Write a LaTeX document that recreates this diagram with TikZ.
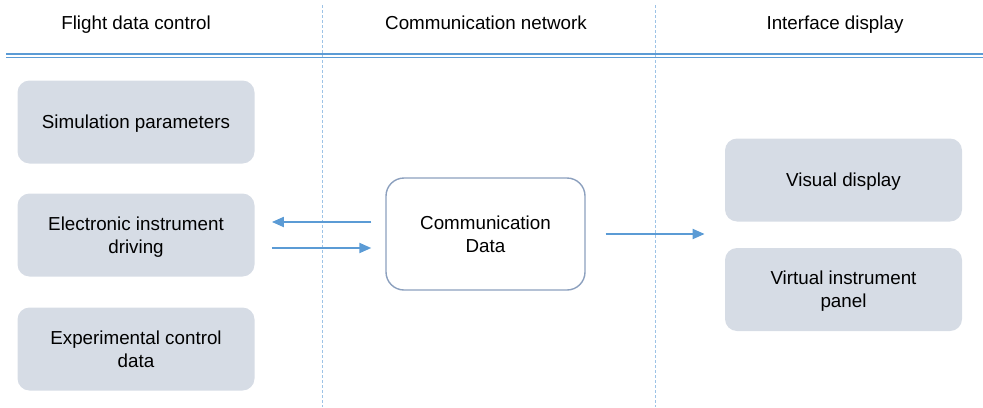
\documentclass[tikz,border=0pt]{standalone}
\usepackage{fontspec}
\setmainfont{Liberation Sans}
\usetikzlibrary{arrows.meta}
\definecolor{boxgray}{RGB}{214,220,229}
\definecolor{framegray}{RGB}{140,160,190}
\definecolor{arrowblue}{RGB}{91,155,213}
\definecolor{laneblue}{RGB}{157,195,230}
\begin{document}
\begin{tikzpicture}[x=0.5pt,y=-0.5pt,font=\fontsize{9.4}{11.5}\selectfont,every node/.style={text depth=0pt}]
    \tikzstyle{item}=[rectangle,rounded corners=6pt,fill=boxgray,minimum width=118.5pt,minimum height=41.5pt,align=center,inner sep=2pt]
    \tikzstyle{hub}=[rectangle,rounded corners=9pt,draw=framegray,line width=0.7pt,fill=white,minimum width=99.5pt,minimum height=56pt,align=center]
    \tikzstyle{flow}=[draw=arrowblue,line width=1pt,-{Triangle[length=6pt,width=5pt]}]
    \tikzstyle{lane}=[draw=laneblue,line width=0.5pt,dash pattern=on 1.5pt off 1pt]
    \useasboundingbox (0,0) rectangle (983,407);

    % lanes and header
    \foreach \x in {322,655}
        \draw[lane] (\x,5) -- (\x,407);
    \draw[arrowblue,line width=0.7pt] (6,54) -- (983,54);
    \draw[arrowblue,line width=0.7pt] (6,57.5) -- (983,57.5);

    \node (T-flight) at (136,23) {Flight data control};
    \node (T-comm) at (486,23) {Communication network};
    \node (T-iface) at (835,23) {Interface display};

    % left column
    \foreach \name/\y/\txt in {sim/122/Simulation parameters, elec/235/Electronic instrument\\driving, exp/349/Experimental control\\data}
        \node[item] (\name) at (136,\y) {\txt};

    % centre
    \node[hub] (comm) at (485.5,234) {Communication\\Data};

    % right column
    \node[item] (vis) at (843.5,180) {Visual display};
    \node[item] (panel) at (843.5,289.5) {Virtual instrument\\panel};

    \draw[flow,shorten >=8.5pt,shorten <=7pt] ([yshift=6pt]comm.west) -- ([yshift=6pt]comm.west -| elec.east);
    \draw[flow,shorten >=7pt,shorten <=8.5pt] ([yshift=-7pt]comm.west -| elec.east) -- ([yshift=-7pt]comm.west);
    \draw[flow,shorten >=10pt,shorten <=10pt] (comm.east) -- (comm.east -| vis.west);
\end{tikzpicture}
\end{document}
